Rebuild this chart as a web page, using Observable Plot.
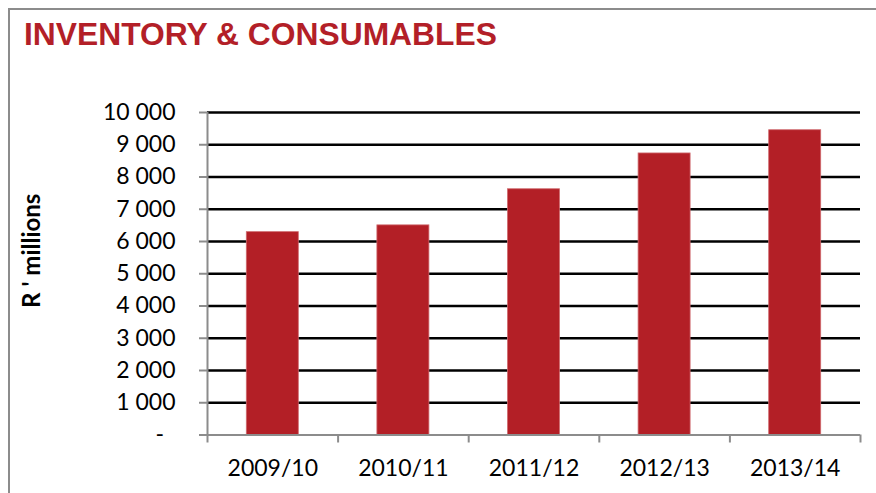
<!DOCTYPE html>
<html>
<head>
<meta charset="utf-8">
<script src="https://cdn.jsdelivr.net/npm/d3@7"></script>
<script src="https://cdn.jsdelivr.net/npm/@observablehq/plot@0.6"></script>
<style>
  html, body { margin: 0; padding: 0; background: #fff; }
  body { width: 876px; height: 493px; position: relative; overflow: hidden; }
  #frame { position: absolute; left: 8px; top: 8px; width: 900px; height: 520px;
           border-left: 2px solid #8c8c8c; border-top: 2px solid #8c8c8c; }
  #title { position: absolute; left: 24px; top: 18px; font-family: "Liberation Sans", Arial, sans-serif;
           font-weight: bold; font-size: 31.8px; line-height: 32px; color: #b31f28; white-space: nowrap; }
  #chart { position: absolute; left: 0; top: 80px; }
</style>
</head>
<body>
<div id="frame"></div>
<div id="title">INVENTORY &amp; CONSUMABLES</div>
<div id="chart"></div>
<script>
const years = ["2009/10", "2010/11", "2011/12", "2012/13", "2013/14"];
const values = [6290, 6500, 7620, 8730, 9450];
const yTicks = [0, 1000, 2000, 3000, 4000, 5000, 6000, 7000, 8000, 9000, 10000];
const yLabel = "R ' millions";

const data = years.map((year, i) => ({year, i, value: values[i]}));
const fmt = d => d === 0 ? "-\u2002" : d3.format(",")(d).replace(/,/g, "\u00a0");

const chart = Plot.plot({
  width: 876,
  height: 413,
  marginTop: 32,
  marginLeft: 207,
  marginRight: 16,
  marginBottom: 58.5,
  x: {domain: [0, 5], axis: null, label: null},
  y: {domain: [0, 10000], axis: null, label: null},
  style: {fontFamily: "Lato, 'Open Sans', sans-serif", fontSize: "23px", color: "#000", background: "transparent", overflow: "visible"},
  marks: [
    Plot.ruleY(yTicks.filter(t => t > 0), {stroke: "#000", strokeWidth: 2.6}),
    Plot.rectY(data, {x1: "i", x2: d => d.i + 1, y1: 0, y2: "value", insetLeft: 39.3, insetRight: 39.3,
      fill: "#b31f26", stroke: "#cf6a6e", strokeWidth: 0.8}),
    Plot.ruleY([0], {stroke: "#8c8c8c", strokeWidth: 2}),
    Plot.ruleX([0], {stroke: "#8c8c8c", strokeWidth: 2}),
    Plot.axisY(yTicks, {tickSize: 8, tickPadding: 24, stroke: "#8c8c8c", strokeWidth: 2, tickFormat: fmt,
      fill: "#000", fontSize: 23, label: null}),
    Plot.axisX(d3.range(6), {tickSize: 8, stroke: "#8c8c8c", strokeWidth: 2, tickFormat: () => "", label: null}),
    Plot.axisX(data.map(d => d.i + 0.5), {tickSize: 0, tickPadding: 25, tickFormat: d => years[Math.floor(d)],
      fill: "#000", fontSize: 23, label: null}),
    Plot.text([yLabel], {frameAnchor: "left", textAnchor: "middle", dx: -175, dy: -23, rotate: -90,
      fontWeight: "bold", fontSize: 24, fill: "#000"})
  ]
});
document.getElementById("chart").appendChild(chart);
</script>
</body>
</html>
